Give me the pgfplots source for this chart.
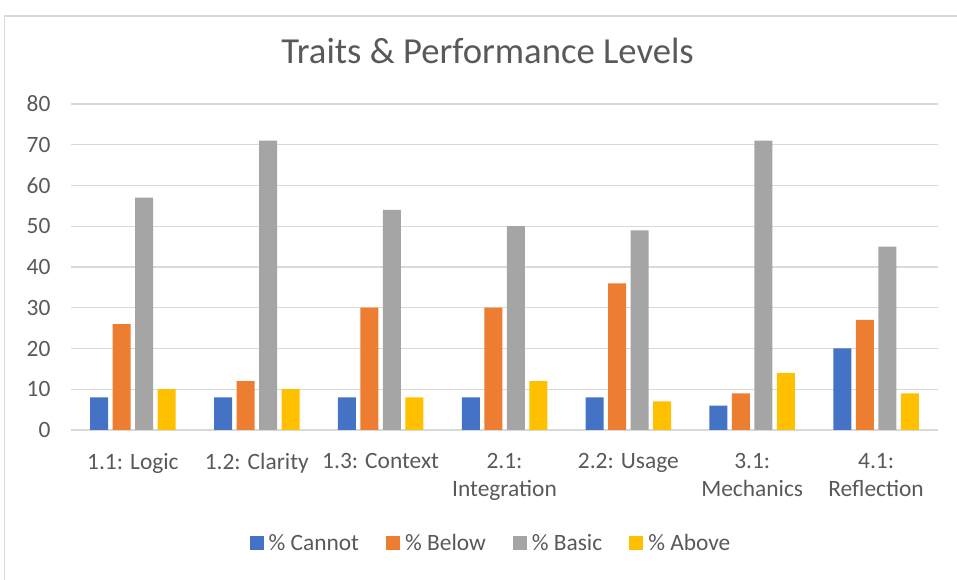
\documentclass[border=0pt]{standalone}
\usepackage{fontspec}
\setmainfont{Carlito}
\usepackage{pgfplots}
\pgfplotsset{compat=1.18}
\definecolor{cBlue}{HTML}{4472C4}
\definecolor{cOrange}{HTML}{ED7D31}
\definecolor{cGray}{HTML}{A5A5A5}
\definecolor{cYellow}{HTML}{FFC000}
\definecolor{txt}{HTML}{595959}
\definecolor{gridc}{HTML}{D9D9D9}
\begin{document}
\begin{tikzpicture}[x=1bp,y=1bp]
\useasboundingbox (0,0) rectangle (957,580);
\draw[color=gridc, line width=1.5bp] (4.5,0) -- (4.5,564) -- (957,564);
\node[font=\fontsize{36.8}{44}\selectfont, text=txt] at (487.5,529) {Traits \& Performance Levels};
\begin{axis}[
  at={(71bp,150bp)}, anchor=south west,
  scale only axis, width=867bp, height=326bp,
  ybar=4.5bp, bar width=18bp,
  ymin=0, ymax=80, ytick={0,10,...,80},
  xmin=-0.5, xmax=6.5, xtick={0,...,6},
  xticklabels={1.1: Logic, 1.2: Clarity, 1.3: Context, {2.1:\\Integration}, 2.2: Usage, {3.1:\\Mechanics}, {4.1:\\Reflection}},
  axis line style={draw=none},
  major tick length=0pt, tick style={draw=none},
  ymajorgrids, grid style={color=gridc, line width=1.3bp},
  /pgf/number format/assume math mode=true,
  ticklabel style={font=\fontsize{23.5}{28}\selectfont, text=txt},
  xticklabel style={align=center, yshift=-20bp},
  yticklabel style={xshift=-17bp},
  legend columns=4,
  legend style={at={(0.4844,-0.3466)}, anchor=center, draw=none, fill=none,
    font=\fontsize{23.5}{28}\selectfont, text=txt,
    /tikz/every odd column/.append style={column sep=3bp},
    /tikz/every even column/.append style={column sep=25bp},
    inner sep=0pt},
  legend image code/.code={\fill[#1] (0bp,-7bp) rectangle (14bp,7bp);},
]
\addplot[fill=cBlue, draw=none] coordinates {(0,8) (1,8) (2,8) (3,8) (4,8) (5,6) (6,20)};
\addplot[fill=cOrange, draw=none] coordinates {(0,26) (1,12) (2,30) (3,30) (4,36) (5,9) (6,27)};
\addplot[fill=cGray, draw=none] coordinates {(0,57) (1,71) (2,54) (3,50) (4,49) (5,71) (6,45)};
\addplot[fill=cYellow, draw=none] coordinates {(0,10) (1,10) (2,8) (3,12) (4,7) (5,14) (6,9)};
\legend{\% Cannot, \% Below, \% Basic, \% Above}
\end{axis}
\end{tikzpicture}
\end{document}
